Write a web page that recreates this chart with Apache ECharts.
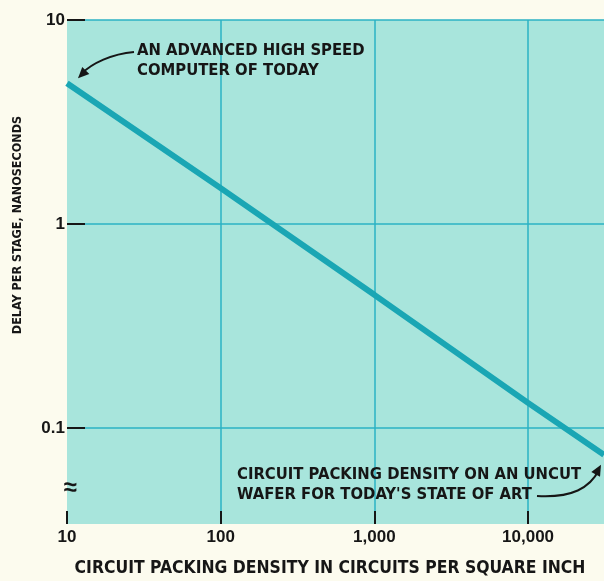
<!DOCTYPE html>
<html>
<head>
<meta charset="utf-8">
<title>Delay per stage vs circuit packing density</title>
<script src="https://cdn.jsdelivr.net/npm/echarts@6/dist/echarts.min.js"></script>
<style>
  html, body { margin: 0; padding: 0; background: #fcfbee; }
  #chart { width: 604px; height: 581px; }
</style>
</head>
<body>
<div id="chart"></div>
<script>
// Circuit packing density (circuits per square inch) and delay per stage (ns)
const density = [10, 100, 1000, 10000, 31200];
const delayNs = [4.9, 1.5, 0.45, 0.133, 0.074];

// Labelled decades on each axis
const xTicks = [10, 100, 1000, 10000];
const yTicks = [0.1, 1, 10];

const xRange = [10, 31200];
const yRange = [0.0339, 10];

const ink = '#161616';
const gridTeal = '#2bb2c4';
const lineTeal = '#1aa6b4';
const narrow = "'Liberation Sans Narrow','DejaVu Sans Condensed','Liberation Sans',sans-serif";
const tickFont = "'Liberation Sans',Arial,sans-serif";

const chart = echarts.init(document.getElementById('chart'), null, { renderer: 'canvas' });

chart.setOption({
  backgroundColor: '#fcfbee',
  animation: false,
  grid: {
    left: 67, top: 20, right: 0, bottom: 57,
    show: true, backgroundColor: '#a8e5dc', borderWidth: 0
  },
  xAxis: {
    type: 'log', logBase: 10, min: xRange[0], max: xRange[1],
    axisLine: { show: false },
    axisTick: {
      show: true, inside: true, length: 13, customValues: xTicks,
      lineStyle: { color: ink, width: 2 }
    },
    axisLabel: {
      customValues: xTicks, margin: 5,
      color: ink, fontSize: 17, fontWeight: 'bold', fontFamily: tickFont,
      formatter: v => Number(v).toLocaleString('en-US')
    },
    splitLine: {
      show: true,
      lineStyle: { color: ['rgba(0,0,0,0)', gridTeal, gridTeal, gridTeal], width: 1.5 }
    }
  },
  yAxis: {
    type: 'log', logBase: 10, min: yRange[0], max: yRange[1],
    axisLine: { show: false },
    axisTick: {
      show: true, inside: true, length: 18, customValues: yTicks,
      lineStyle: { color: ink, width: 2 }
    },
    axisLabel: {
      customValues: yTicks, margin: 2,
      color: ink, fontSize: 17, fontWeight: 'bold', fontFamily: tickFont,
      formatter: v => (v < 1 ? '0.1' : String(Math.round(v)))
    },
    splitLine: {
      show: true,
      lineStyle: { color: gridTeal, width: 1.5 }
    }
  },
  series: [{
    type: 'line',
    data: density.map((d, i) => [d, delayNs[i]]),
    symbol: 'none',
    lineStyle: { color: lineTeal, width: 6 },
    z: 3
  }]
});

// Annotations anchored to the ends of the curve
const start = chart.convertToPixel({ gridIndex: 0 }, [density[0], delayNs[0]]);
const end = chart.convertToPixel({ gridIndex: 0 }, [density[density.length - 1], delayNs[delayNs.length - 1]]);
const origin = chart.convertToPixel({ gridIndex: 0 }, [xRange[0], yRange[0]]);

function arrowHead(tip, from, len, half) {
  const dx = tip[0] - from[0], dy = tip[1] - from[1];
  const m = Math.hypot(dx, dy);
  const ux = dx / m, uy = dy / m;
  const bx = tip[0] - ux * len, by = tip[1] - uy * len;
  return {
    type: 'polygon',
    shape: { points: [tip, [bx - uy * half, by + ux * half], [bx + uy * half, by - ux * half]] },
    style: { fill: ink },
    z: 10
  };
}

const topTip = [start[0] + 11, start[1] - 5];
const botTip = [end[0] - 3, end[1] + 10];

chart.setOption({
  graphic: [
    {
      type: 'text', x: 137, y: 41, z: 10,
      style: {
        text: 'AN ADVANCED HIGH SPEED\nCOMPUTER OF TODAY',
        fill: ink, font: 'bold 16.5px ' + narrow, lineHeight: 20,
        align: 'left', verticalAlign: 'top'
      }
    },
    {
      type: 'bezierCurve', z: 10,
      shape: {
        x1: 134, y1: 52, cpx1: 112, cpy1: 54,
        cpx2: 92, cpy2: 63, x2: topTip[0] + 3, y2: topTip[1] - 4
      },
      style: { stroke: ink, lineWidth: 2, fill: null }
    },
    arrowHead(topTip, [topTip[0] + 8, topTip[1] - 8], 11, 5),
    {
      type: 'text', x: 237, y: 465, z: 10,
      style: {
        text: "CIRCUIT PACKING DENSITY ON AN UNCUT\nWAFER FOR TODAY'S STATE OF ART",
        fill: ink, font: 'bold 16.5px ' + narrow, lineHeight: 20,
        align: 'left', verticalAlign: 'top'
      }
    },
    {
      type: 'bezierCurve', z: 10,
      shape: {
        x1: 537, y1: 496, cpx1: 572, cpy1: 498,
        cpx2: 590, cpy2: 488, x2: botTip[0] - 2, y2: botTip[1] + 5
      },
      style: { stroke: ink, lineWidth: 2, fill: null }
    },
    arrowHead(botTip, [botTip[0] - 5, botTip[1] + 9], 11, 5),
    {
      type: 'text', x: origin[0] + 3, y: origin[1] - 36, z: 10,
      style: {
        text: '\u2248', fill: ink, font: 'bold 24px ' + tickFont,
        align: 'center', verticalAlign: 'middle'
      }
    },
    {
      type: 'text', x: 18, y: 225, rotation: Math.PI / 2, z: 10,
      style: {
        text: 'DELAY PER STAGE, NANOSECONDS',
        fill: ink, font: 'bold 12.5px ' + narrow,
        align: 'center', verticalAlign: 'middle'
      }
    },
    {
      type: 'text', x: 330, y: 568, z: 10,
      style: {
        text: 'CIRCUIT PACKING DENSITY IN CIRCUITS PER SQUARE INCH',
        fill: ink, font: 'bold 17.4px ' + narrow,
        align: 'center', verticalAlign: 'middle'
      }
    }
  ]
});
</script>
</body>
</html>
